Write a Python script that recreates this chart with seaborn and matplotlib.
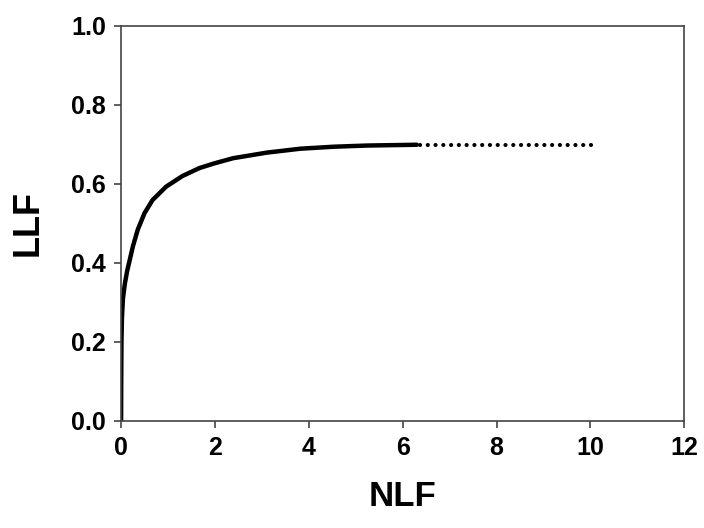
import numpy as np
import pandas as pd
import matplotlib
matplotlib.use("Agg")
import matplotlib.pyplot as plt
import seaborn as sns

# values
nlf = [0.0, 0.003, 0.008, 0.018, 0.04, 0.08, 0.13, 0.18, 0.25, 0.355, 0.5,
       0.67, 0.96, 1.31, 1.67, 1.99, 2.39, 3.1, 3.82, 4.53, 5.24, 6.3]
llf = [0.0, 0.1, 0.2, 0.26, 0.31, 0.347, 0.38, 0.405, 0.441, 0.484, 0.526,
       0.559, 0.593, 0.62, 0.64, 0.652, 0.665, 0.679, 0.689, 0.694, 0.697,
       0.699]

# flat extension (dotted)
ext_nlf = [6.37, 10.03]
ext_llf = [0.699, 0.699]

sns.set_theme(style="ticks")
plt.rcParams["font.family"] = ["Liberation Sans", "DejaVu Sans"]
plt.rcParams["font.weight"] = "bold"
plt.rcParams["text.color"] = "black"
plt.rcParams["xtick.color"] = "#444444"
plt.rcParams["ytick.color"] = "#444444"
plt.rcParams["xtick.labelcolor"] = "black"
plt.rcParams["ytick.labelcolor"] = "black"
plt.rcParams["axes.labelcolor"] = "black"

fig, ax = plt.subplots(figsize=(7.04, 5.28), dpi=100)

df = pd.DataFrame({"NLF": nlf, "LLF": llf})
sns.lineplot(data=df, x="NLF", y="LLF", ax=ax, color="black", linewidth=3.2,
             sort=False, estimator=None, solid_joinstyle="round",
             solid_capstyle="round")
ax.plot(ext_nlf, ext_llf, color="black", linewidth=3.0,
        linestyle=(0, (0.01, 1.855)), dash_capstyle="round")

ax.set_xlim(0, 12)
ax.set_ylim(0, 1.0)
ax.set_xticks(np.arange(0, 13, 2))
ax.set_yticks(np.arange(0, 1.01, 0.2))
ax.set_yticklabels([f"{v:.1f}" for v in np.arange(0, 1.01, 0.2)])

for s in ax.spines.values():
    s.set_visible(True)
    s.set_color("#444444")
    s.set_linewidth(1.2)

ax.tick_params(direction="out", length=5, width=1.2, labelsize=18, pad=6)
for lab in ax.get_xticklabels() + ax.get_yticklabels():
    lab.set_fontweight("bold")

ax.set_xlabel("NLF", fontsize=25, fontweight="bold", labelpad=14)
ax.set_ylabel("LLF", fontsize=26, fontweight="bold", labelpad=18)

fig.subplots_adjust(left=0.172, right=0.972, top=0.951, bottom=0.203)
fig.savefig("out.png", dpi=100)
